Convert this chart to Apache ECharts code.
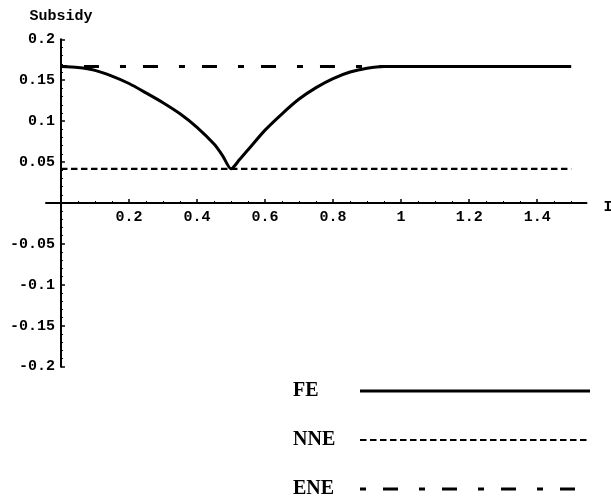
<!DOCTYPE html>
<html>
<head>
<meta charset="utf-8">
<script src="https://cdn.jsdelivr.net/npm/echarts@6/dist/echarts.min.js"></script>
<style>
  html, body { margin: 0; padding: 0; background: #fff; }
  #chart { width: 611px; height: 499px; }
</style>
</head>
<body>
<div id="chart"></div>
<script>
// Subsidy as a function of the parameter on the horizontal axis
const xValues   = [0, 0.05, 0.1, 0.15, 0.2, 0.25, 0.3, 0.35, 0.4, 0.45, 0.475, 0.5,
                   0.525, 0.55, 0.6, 0.65, 0.7, 0.75, 0.8, 0.85, 0.9, 0.95,
                   1.0, 1.1, 1.2, 1.3, 1.4, 1.5];
const feValues  = [0.1667, 0.1655, 0.162, 0.155, 0.146, 0.1345, 0.1225, 0.109, 0.0925, 0.072, 0.058, 0.0417,
                   0.053, 0.065, 0.089, 0.109, 0.127, 0.141, 0.152, 0.160, 0.1647, 0.1667,
                   0.1667, 0.1667, 0.1667, 0.1667, 0.1667, 0.1667];
const nneX      = [0, 1.5];
const nneValues = [0.0417, 0.0417];
const eneX      = [0, 1.5];
const eneValues = [0.1667, 0.1667];

const xTickLabels  = [0.2, 0.4, 0.6, 0.8, 1, 1.2, 1.4];
const xMinorTicks  = [0.05, 0.1, 0.15, 0.25, 0.3, 0.35, 0.45, 0.5, 0.55, 0.65, 0.7, 0.75,
                      0.85, 0.9, 0.95, 1.05, 1.1, 1.15, 1.25, 1.3, 1.35, 1.45, 1.5];
const seriesNames  = ['FE', 'NNE', 'ENE'];

const pairs = (xs, ys) => xs.map((x, i) => [x, ys[i]]);

// plot geometry
const GRID = { left: 46, right: 24.5, top: 39.3, bottom: 132.3 };
const X_MIN = -0.044, X_MAX = 1.545, Y_MIN = -0.2, Y_MAX = 0.2;
const plotW = 611 - GRID.left - GRID.right;
const plotH = 499 - GRID.top - GRID.bottom;
// shift the axes so they cross at the origin
const yAxisShift = -(0 - X_MIN) / (X_MAX - X_MIN) * plotW;
const xAxisShift = -(0 - Y_MIN) / (Y_MAX - Y_MIN) * plotH;

const monoFont = '"Liberation Mono", "DejaVu Sans Mono", monospace';
const axisLabelStyle = { color: '#000', fontFamily: monoFont, fontWeight: 'bold', fontSize: 15 };
const fmt = v => (Math.abs(v) < 1e-9 ? '' : String(Number(v.toFixed(2))));

const legendText = {
  color: '#000',
  fontFamily: '"Liberation Serif", "DejaVu Serif", serif',
  fontWeight: 'bold',
  fontSize: 20
};
const makeLegend = (name, top, lineWidth) => ({
  show: true,
  data: [name],
  orient: 'vertical',
  left: 293,
  top: top,
  padding: 0,
  align: 'right',
  itemWidth: 230,
  itemHeight: 20,
  selectedMode: false,
  itemStyle: { color: 'rgba(0,0,0,0)', borderColor: 'rgba(0,0,0,0)', borderWidth: 0 },
  lineStyle: { width: lineWidth },
  formatter: n => '{t|' + n + '}',
  textStyle: { ...legendText, rich: { t: { ...legendText, width: 62, align: 'left' } } }
});

const chart = echarts.init(document.getElementById('chart'), null, { renderer: 'canvas' });
chart.setOption({
  animation: false,
  backgroundColor: '#fff',
  grid: { ...GRID, containLabel: false, outerBoundsMode: 'none' },
  xAxis: [{
    type: 'value',
    min: X_MIN, max: X_MAX,
    position: 'bottom',
    offset: xAxisShift,
    axisLine: { onZero: false, lineStyle: { color: '#000', width: 2 } },
    axisTick: { inside: true, length: 4, customValues: xTickLabels, lineStyle: { color: '#000', width: 1.5 } },
    axisLabel: { customValues: xTickLabels, formatter: fmt, margin: 7, ...axisLabelStyle },
    splitLine: { show: false },
    name: 'I',
    nameLocation: 'end',
    nameGap: 17,
    nameTextStyle: { ...axisLabelStyle, verticalAlign: 'top', padding: [-3, 0, 0, 0] }
  }, {
    type: 'value',
    min: X_MIN, max: X_MAX,
    position: 'bottom',
    offset: xAxisShift,
    axisLine: { show: false, onZero: false },
    axisTick: { inside: true, length: 2, customValues: xMinorTicks, lineStyle: { color: '#000', width: 1 } },
    axisLabel: { show: false },
    splitLine: { show: false }
  }],
  yAxis: {
    type: 'value',
    min: Y_MIN, max: Y_MAX, interval: 0.05,
    position: 'left',
    offset: yAxisShift,
    axisLine: { onZero: false, lineStyle: { color: '#000', width: 2 } },
    axisTick: { inside: true, length: 4, lineStyle: { color: '#000', width: 1.5 } },
    minorTick: { show: true, splitNumber: 5, length: 2, lineStyle: { color: '#000', width: 1 } },
    axisLabel: { formatter: fmt, margin: 6, ...axisLabelStyle },
    splitLine: { show: false },
    name: 'Subsidy',
    nameLocation: 'end',
    nameGap: 16,
    nameTextStyle: { ...axisLabelStyle, align: 'center' }
  },
  legend: [
    makeLegend('FE', 381, 3),
    makeLegend('NNE', 430, 2.2),
    makeLegend('ENE', 479, 3)
  ],
  series: [
    {
      name: 'ENE', type: 'line', symbol: 'none', silent: true,
      data: pairs(eneX, eneValues),
      lineStyle: { color: '#000', width: 3, type: [6, 17, 15, 21] },
      itemStyle: { color: '#000' }
    },
    {
      name: 'NNE', type: 'line', symbol: 'none', silent: true,
      data: pairs(nneX, nneValues),
      lineStyle: { color: '#000', width: 2.2, type: [6.5, 3.5] },
      itemStyle: { color: '#000' }
    },
    {
      name: 'FE', type: 'line', symbol: 'none', silent: true, smooth: 0.25,
      data: pairs(xValues, feValues),
      lineStyle: { color: '#000', width: 3 },
      itemStyle: { color: '#000' }
    }
  ]
});
</script>
</body>
</html>
